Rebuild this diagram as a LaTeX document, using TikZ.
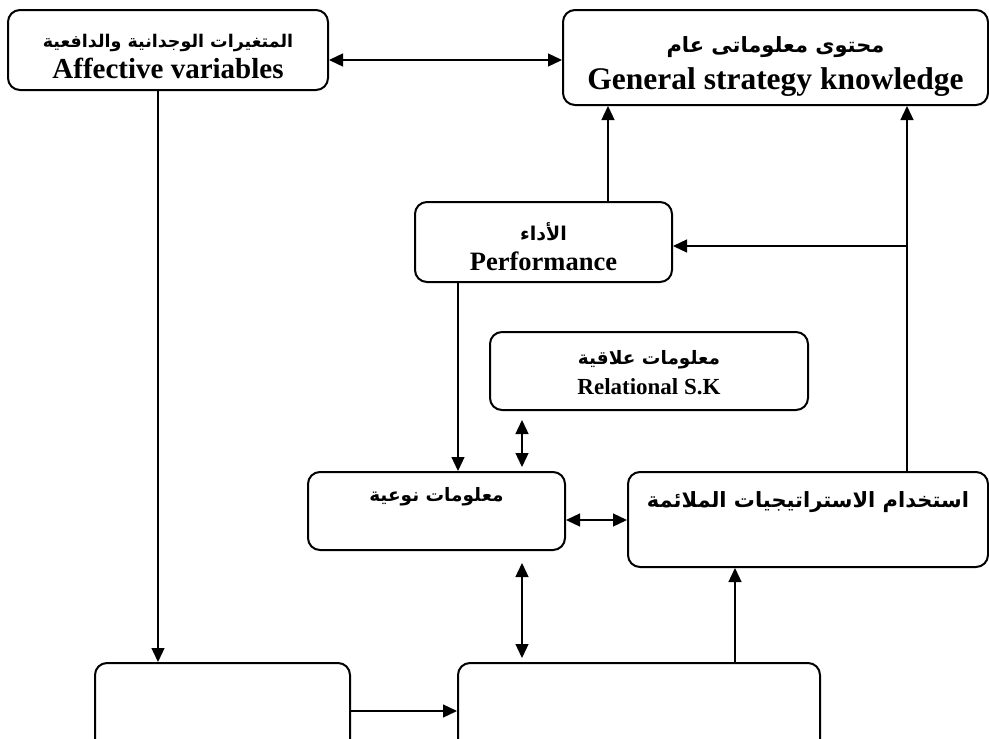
\documentclass[tikz,border=0pt]{standalone}
\usepackage{fontspec}
\setmainfont{Liberation Serif}
\newfontfamily\arabicfont[Script=Arabic]{DejaVu Sans}
\TeXXeTstate=1
\usetikzlibrary{arrows.meta}
\newcommand{\artext}[1]{{\arabicfont\bfseries\beginR #1\endR}}
\newcommand{\fsz}[2]{\fontsize{#1}{#2}\selectfont}

\begin{document}
\begin{tikzpicture}[
        x=1pt, y=-1pt,
        >={Triangle[length=14pt,width=13pt]},
        box/.style={rectangle, draw=black, line width=2pt, rounded corners=12pt, align=center, inner sep=0pt, font=\bfseries},
        link/.style={line width=1.3pt},
    ]
    \useasboundingbox (0,0) rectangle (989,739);
    \clip (0,0) rectangle (989,739);

    \node[box, minimum width=320pt, minimum height=80pt, text height=56pt, text depth=0pt] (AV) at (168,50)
        {\fsz{17.5}{21}\artext{المتغيرات الوجدانية والدافعية}\\[5pt] \fsz{29}{33}Affective variables};
    \node[box, minimum width=425pt, minimum height=95pt, text height=64pt, text depth=0pt] (GK) at (775.5,57.5)
        {\fsz{21}{25}\artext{محتوى معلوماتى عام}\\[9pt] \fsz{31.5}{38}General strategy knowledge};
    \node[box, minimum width=257pt, minimum height=80pt, text height=56pt, text depth=0pt] (PF) at (543.5,242)
        {\fsz{19}{23}\artext{الأداء}\\[9pt] \fsz{26.5}{32}Performance};
    \node[box, minimum width=318pt, minimum height=78pt, text height=46pt, text depth=0pt] (RK) at (649,371)
        {\fsz{18.5}{22}\artext{معلومات علاقية}\\[8pt] \fsz{23}{31}Relational S.K};
    \node[box, minimum width=257pt, minimum height=78pt, text height=0pt, text depth=20pt] (SK) at (436.5,511)
        {\fsz{18.5}{22}\artext{معلومات نوعية}};
    \node[box, minimum width=360pt, minimum height=95pt, text height=0pt, text depth=25pt] (SU) at (808,519.5)
        {\fsz{21}{25}\artext{استخدام الاستراتيجيات الملائمة}};
    \node[box, minimum width=255pt, minimum height=96pt] (BL) at (222.5,711) {};
    \node[box, minimum width=362pt, minimum height=96pt] (BM) at (639,711) {};

    \coordinate (c1) at ([yshift=-10pt]AV.east);
    \coordinate (c2) at ([xshift=64.5pt]PF.north);
    \coordinate (c3) at ([xshift=99pt]SU.north);
    \coordinate (c4) at ([yshift=-4pt]PF.east);
    \coordinate (c5) at ([xshift=-85.5pt]PF.south);
    \coordinate (c6) at ([xshift=85.5pt]SK.north);
    \coordinate (c7) at ([xshift=85.5pt]SK.south);
    \coordinate (c8) at ([yshift=-9pt]SK.east);
    \coordinate (c9) at ([xshift=96pt]BM.north);
    \coordinate (c10) at ([xshift=-10pt]AV.south);

    \draw[link, <->] (c1) -- (c1 -| GK.west);
    \draw[link, ->] (c2) -- (c2 |- GK.south);
    \draw[link, ->] (c3) -- (c3 |- GK.south);
    \draw[link, ->] (c4 -| c3) -- (c4);
    \draw[link, ->] (c5) -- (c5 |- SK.north);
    \draw[link, <->, shorten <=4pt, shorten >=9pt] (c6) -- (c6 |- RK.south);
    \draw[link, <->, shorten <=12pt, shorten >=4pt] (c7) -- (c7 |- BM.north);
    \draw[link, <->] (c8) -- (c8 -| SU.west);
    \draw[link, ->] (c9) -- (c9 |- SU.south);
    \draw[link, ->] (c10) -- (c10 |- BL.north);
    \draw[link, ->] (BL.east) -- (BM.west);

\end{tikzpicture}
\end{document}
